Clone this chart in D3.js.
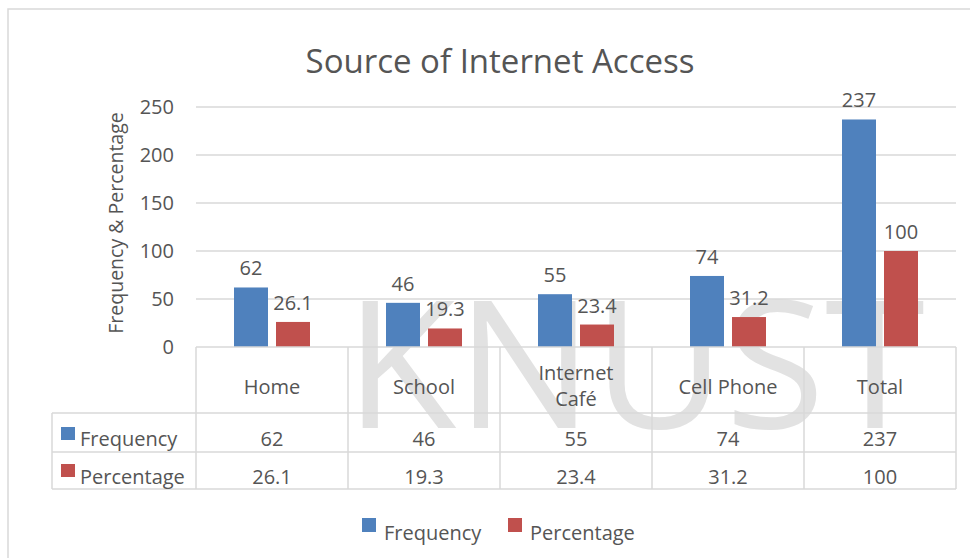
<!DOCTYPE html>
<html>
<head>
<meta charset="utf-8">
<script src="https://d3js.org/d3.v7.min.js"></script>
<style>
  body { margin: 0; background: #fff; }
  text { font-family: "Open Sans", "Noto Sans", sans-serif; fill: #555; }
</style>
</head>
<body>
<svg id="chart" width="970" height="558"></svg>
<script>
// data
const categories = ["Home", "School", "Internet Café", "Cell Phone", "Total"];
const series = ["Frequency", "Percentage"];
const frequency = [62, 46, 55, 74, 237];
const percentage = [26.1, 19.3, 23.4, 31.2, 100];
const percentageLabels = ["26.1", "19.3", "23.4", "31.2", "100"];
const yTicks = [0, 50, 100, 150, 200, 250];

const colors = { Frequency: "#4F81BD", Percentage: "#C0504D" };
const values = { Frequency: frequency, Percentage: percentage };
const labels = { Frequency: frequency.map(String), Percentage: percentageLabels };

const svg = d3.select("#chart");
const grid = "#D9D9D9";
const fs = 20;

// outer chart border
svg.append("rect")
    .attr("x", 8).attr("y", 9)
    .attr("width", 980).attr("height", 600)
    .attr("fill", "none")
    .attr("stroke", grid)
    .attr("stroke-width", 1.5);

const x0 = d3.scaleBand().domain(categories).range([196, 956]);
const x1 = d3.scaleBand().domain(series).range([38, 114]).paddingInner(8 / 42);
const y = d3.scaleLinear().domain([0, 250]).range([347, 107]);

// watermark, sits behind everything
svg.append("text")
    .attr("x", 345).attr("y", 428)
    .attr("font-size", 178)
    .attr("textLength", 580)
    .attr("lengthAdjust", "spacingAndGlyphs")
    .style("fill", "#cfcfcf")
    .attr("opacity", 0.6)
    .text("KNUST");

// title
svg.append("text")
    .attr("x", 500).attr("y", 73)
    .attr("text-anchor", "middle")
    .attr("font-size", 33)
    .text("Source of Internet Access");

// gridlines
svg.append("g").selectAll("line")
    .data(yTicks.slice(1))
    .join("line")
    .attr("x1", 196).attr("x2", 956)
    .attr("y1", d => y(d)).attr("y2", d => y(d))
    .attr("stroke", grid).attr("stroke-width", 1.5);

// y tick labels
svg.append("g").selectAll("text")
    .data(yTicks)
    .join("text")
    .attr("x", 174)
    .attr("y", d => y(d) + 7)
    .attr("text-anchor", "end")
    .attr("font-size", fs)
    .text(d => d);

// y axis title
svg.append("text")
    .attr("transform", "translate(123,223) rotate(-90)")
    .attr("text-anchor", "middle")
    .attr("font-size", 19.5)
    .text("Frequency & Percentage");

// bars
const groups = svg.append("g").selectAll("g")
    .data(categories)
    .join("g")
    .attr("transform", d => "translate(" + x0(d) + ",0)");

series.forEach(s => {
    groups.append("rect")
        .attr("x", x1(s))
        .attr("width", x1.bandwidth())
        .attr("y", (d, i) => y(values[s][i]))
        .attr("height", (d, i) => y(0) - y(values[s][i]))
        .attr("fill", colors[s]);

    groups.append("text")
        .attr("x", x1(s) + x1.bandwidth() / 2)
        .attr("y", (d, i) => y(values[s][i]) - 12)
        .attr("text-anchor", "middle")
        .attr("font-size", fs)
        .text((d, i) => labels[s][i]);
});

// data table
const tableTop = 347, catBottom = 413, row1 = 452, row2 = 489, tableLeft = 52;
const table = svg.append("g")
    .attr("stroke", grid).attr("stroke-width", 1.5);

table.selectAll("line.v")
    .data(categories.map(c => x0(c)).concat([956]))
    .join("line")
    .attr("class", "v")
    .attr("x1", d => d).attr("x2", d => d)
    .attr("y1", tableTop).attr("y2", row2);

table.append("line").attr("x1", 196).attr("x2", 956).attr("y1", tableTop).attr("y2", tableTop);
[catBottom, row1, row2].forEach(yy => {
    table.append("line").attr("x1", tableLeft).attr("x2", 956).attr("y1", yy).attr("y2", yy);
});
table.append("line").attr("x1", tableLeft).attr("x2", tableLeft).attr("y1", catBottom).attr("y2", row2);

// category labels
svg.append("g").selectAll("text")
    .data(categories)
    .join("text")
    .attr("text-anchor", "middle")
    .attr("font-size", fs)
    .each(function (d) {
        const t = d3.select(this);
        const cx = x0(d) + x0.bandwidth() / 2;
        if (d === "Internet Café") {
            t.append("tspan").attr("x", cx).attr("y", 380).text("Internet");
            t.append("tspan").attr("x", cx).attr("y", 406).text("Café");
        } else {
            t.attr("x", cx).attr("y", 394).text(d);
        }
    });

// table rows
const rowY = { Frequency: 446, Percentage: 484 };
const keyY = { Frequency: 427, Percentage: 464 };
series.forEach(s => {
    svg.append("rect")
        .attr("x", 61).attr("y", keyY[s])
        .attr("width", 14).attr("height", 13)
        .attr("fill", colors[s]);
    svg.append("text")
        .attr("x", 80).attr("y", rowY[s])
        .attr("font-size", fs)
        .text(s);
    svg.append("g").selectAll("text")
        .data(categories)
        .join("text")
        .attr("x", d => x0(d) + x0.bandwidth() / 2)
        .attr("y", rowY[s])
        .attr("text-anchor", "middle")
        .attr("font-size", fs)
        .text((d, i) => labels[s][i]);
});

// legend
const legendX = { Frequency: 362, Percentage: 508 };
series.forEach(s => {
    svg.append("rect")
        .attr("x", legendX[s]).attr("y", 518)
        .attr("width", 14).attr("height", 14)
        .attr("fill", colors[s]);
    svg.append("text")
        .attr("x", legendX[s] + 22).attr("y", 540)
        .attr("font-size", fs)
        .text(s);
});
</script>
</body>
</html>
